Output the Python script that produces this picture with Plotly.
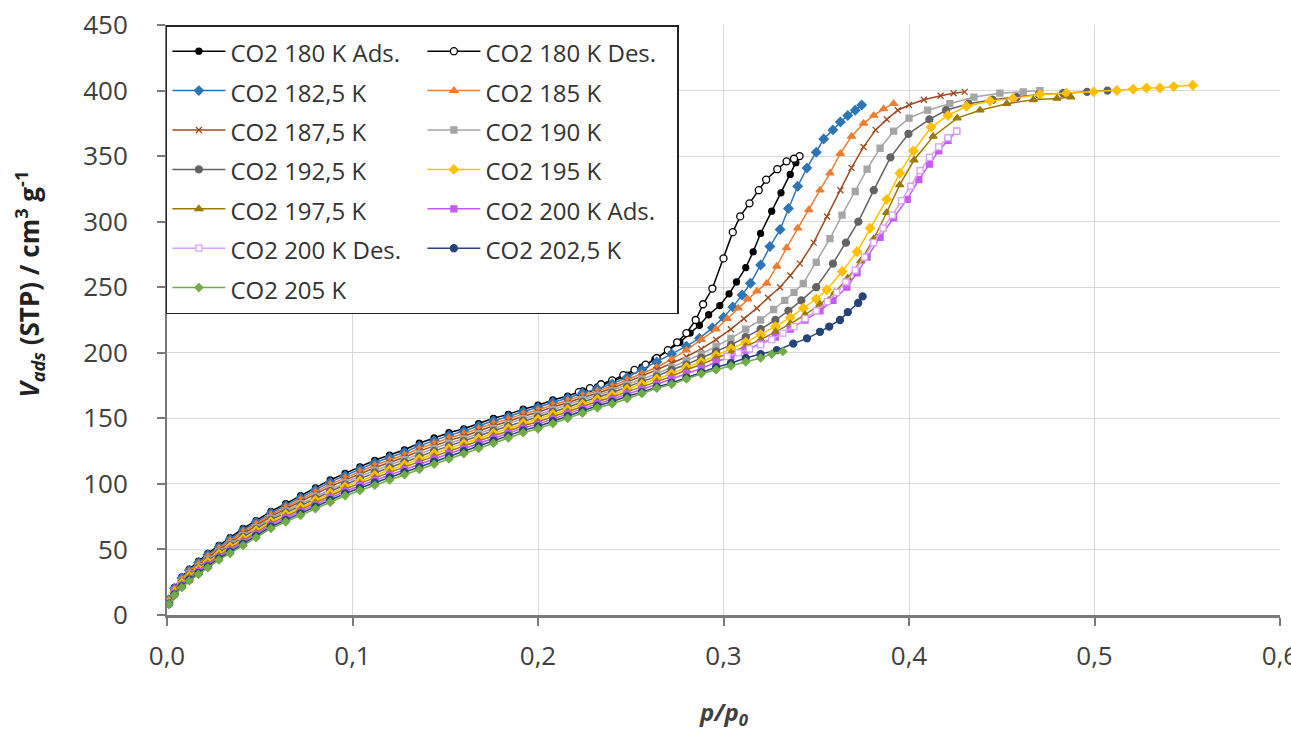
import plotly.graph_objects as go

# ---------------- data ----------------
# shared low-pressure grid (p/p0) used by all adsorption branches
P_LOW = [0.001, 0.004, 0.008, 0.012, 0.017, 0.022, 0.028, 0.034, 0.041, 0.048,
         0.056, 0.064, 0.072, 0.080, 0.088, 0.096, 0.104, 0.112, 0.120, 0.128,
         0.136, 0.144, 0.152, 0.160, 0.168, 0.176, 0.184, 0.192, 0.200, 0.208,
         0.216, 0.224, 0.232, 0.240, 0.248]

V_LOW_180 = [12, 21, 29, 35, 41, 47, 53, 59, 66, 72, 79, 85, 91, 97, 103, 108, 113, 118, 122, 126,
             131, 135, 139, 142, 146, 150, 153, 157, 160, 164, 167, 171, 174, 178, 183]
V_LOW_182 = [11.6, 20.4, 28.2, 34.1, 40, 45.9, 51.9, 57.8, 64.7, 70.7, 77.7, 83.6, 89.5, 95.4, 101.3,
             106.3, 111.2, 116.1, 120.1, 124.1, 129, 133, 137, 140.1, 144.1, 148.1, 151.2, 155.2,
             158.2, 162.2, 165.3, 169.3, 172.4, 176.3, 181.2]
V_LOW_185 = [11.2, 19.8, 27.4, 33.2, 39, 44.8, 50.8, 56.6, 63.4, 69.4, 76.4, 82.2, 88, 93.8, 99.6,
             104.6, 109.4, 114.2, 118.2, 122.2, 127, 131, 135, 138.2, 142.2, 146.2, 149.4, 153.4,
             156.4, 160.4, 163.6, 167.6, 170.8, 174.6, 179.4]
V_LOW_187 = [10.8, 19.2, 26.6, 32.3, 38, 43.7, 49.7, 55.4, 62.1, 68.1, 75.1, 80.8, 86.5, 92.2, 97.9,
             102.9, 107.6, 112.3, 116.3, 120.3, 125, 129, 133, 136.3, 140.3, 144.3, 147.6, 151.6,
             154.6, 158.6, 161.9, 165.9, 169.2, 172.9, 177.6]
V_LOW_190 = [10.4, 18.6, 25.8, 31.4, 37, 42.6, 48.6, 54.2, 60.8, 66.8, 73.8, 79.4, 85, 90.6, 96.2,
             101.2, 105.8, 110.4, 114.4, 118.4, 123, 127, 131, 134.4, 138.4, 142.4, 145.8, 149.8,
             152.8, 156.8, 160.2, 164.2, 167.6, 171.2, 175.8]
V_LOW_192 = [10, 18, 25, 30.5, 36, 41.5, 47.5, 53, 59.5, 65.5, 72.5, 78, 83.5, 89, 94.5, 99.5, 104,
             108.5, 112.5, 116.5, 121, 125, 129, 132.5, 136.5, 140.5, 144, 148, 151, 155, 158.5,
             162.5, 166, 169.5, 174]
V_LOW_195 = [9.6, 17.4, 24.2, 29.6, 35, 40.4, 46.4, 51.8, 58.2, 64.2, 71.2, 76.6, 82, 87.4, 92.8,
             97.8, 102.2, 106.6, 110.6, 114.6, 119, 123, 127, 130.6, 134.6, 138.6, 142.2, 146.2,
             149.2, 153.2, 156.8, 160.8, 164.4, 167.8, 172.2]
V_LOW_197 = [9.2, 16.8, 23.4, 28.7, 34, 39.3, 45.3, 50.6, 56.9, 62.9, 69.9, 75.2, 80.5, 85.8, 91.1,
             96.1, 100.4, 104.7, 108.7, 112.7, 117, 121, 125, 128.7, 132.7, 136.7, 140.4, 144.4,
             147.4, 151.4, 155.1, 159.1, 162.8, 166.1, 170.4]
V_LOW_200 = [8.8, 16.2, 22.6, 27.8, 33, 38.2, 44.2, 49.4, 55.6, 61.6, 68.6, 73.8, 79, 84.2, 89.4,
             94.4, 98.6, 102.8, 106.8, 110.8, 115, 119, 123, 126.8, 130.8, 134.8, 138.6, 142.6,
             145.6, 149.6, 153.4, 157.4, 161.2, 164.4, 168.6]
V_LOW_202 = [8.4, 15.6, 21.8, 26.9, 32, 37.1, 43.1, 48.2, 54.3, 60.3, 67.3, 72.4, 77.5, 82.6, 87.7,
             92.7, 96.8, 100.9, 104.9, 108.9, 113, 117, 121, 124.9, 128.9, 132.9, 136.8, 140.8,
             143.8, 147.8, 151.7, 155.7, 159.6, 162.7, 166.8]
V_LOW_205 = [8, 15, 21, 26, 31, 36, 42, 47, 53, 59, 66, 71, 76, 81, 86, 91, 95, 99, 103, 107,
             111, 115, 119, 123, 127, 131, 135, 139, 142, 146, 150, 154, 158, 161, 165]

# high-pressure parts (p/p0, V)
P_T180A = [0.256, 0.263, 0.270, 0.2765, 0.282, 0.287, 0.292, 0.298, 0.303, 0.307, 0.312, 0.316,
           0.320, 0.326, 0.331, 0.336, 0.339]
V_T180A = [189, 195, 202, 208, 215, 221, 229, 236, 245, 254, 265, 277, 291, 308, 322, 336, 345]

P_180D = [0.341, 0.338, 0.334, 0.329, 0.323, 0.319, 0.314, 0.309, 0.305, 0.300, 0.294, 0.289,
          0.285, 0.280, 0.275, 0.270, 0.264, 0.258, 0.252, 0.246, 0.240, 0.234, 0.228, 0.222]
V_180D = [350, 348, 346, 340, 332, 324, 314, 304, 292, 272, 249, 237, 225, 215, 208, 202, 196,
          191, 187, 183, 179, 176, 173, 170]

P_T182 = [0.256, 0.264, 0.272, 0.280, 0.287, 0.294, 0.300, 0.305, 0.310, 0.3145, 0.320, 0.325,
          0.3305, 0.335, 0.340, 0.345, 0.350, 0.354, 0.359, 0.363, 0.367, 0.371, 0.3745]
V_T182 = [187, 193, 199, 205, 211, 219, 227, 235, 244, 253, 267, 281, 294, 310, 327, 341, 353,
          363, 370, 376, 381, 385, 389]

P_T185 = [0.256, 0.264, 0.272, 0.280, 0.288, 0.296, 0.302, 0.308, 0.313, 0.318, 0.3233, 0.3287,
          0.334, 0.340, 0.346, 0.352, 0.3574, 0.363, 0.369, 0.3755, 0.381, 0.3863, 0.3917]
V_T185 = [184, 189, 195, 202, 210, 218, 226, 234, 241, 247, 253, 266, 280, 295, 309, 324, 337,
          352, 365, 375, 381, 386, 390]

P_T187 = [0.256, 0.264, 0.272, 0.280, 0.288, 0.296, 0.304, 0.311, 0.318, 0.324, 0.3305, 0.336,
          0.3412, 0.3486, 0.3558, 0.363, 0.369, 0.3755, 0.382, 0.388, 0.394, 0.400, 0.408, 0.417,
          0.424, 0.430]
V_T187 = [182, 187, 192, 197, 203, 210, 218, 226, 234, 242, 250, 259, 268, 284, 304, 324, 341,
          357, 370, 378, 385, 389, 393, 396, 398, 399]

P_T190 = [0.256, 0.264, 0.272, 0.280, 0.288, 0.296, 0.304, 0.312, 0.320, 0.327, 0.333, 0.338,
          0.343, 0.350, 0.3574, 0.3639, 0.371, 0.3774, 0.3844, 0.3917, 0.400, 0.410, 0.422, 0.435,
          0.449, 0.4616, 0.4706]
V_T190 = [180, 184, 189, 194, 199, 205, 211, 218, 225, 233, 240, 246, 253, 269, 287, 305, 323,
          340, 356, 369, 379, 385, 390, 395, 398, 399, 400]

P_T192 = [0.256, 0.264, 0.272, 0.280, 0.288, 0.296, 0.304, 0.312, 0.320, 0.328, 0.335, 0.342,
          0.350, 0.359, 0.366, 0.3727, 0.381, 0.390, 0.3997, 0.411, 0.420, 0.432, 0.445, 0.458,
          0.470, 0.483, 0.496, 0.507]
V_T192 = [178, 182, 187, 191, 196, 201, 206, 212, 218, 225, 232, 240, 250, 268, 284, 300, 324,
          349, 367, 378, 385, 390, 393, 395, 397, 398, 399, 400]

P_T195 = [0.256, 0.264, 0.272, 0.280, 0.288, 0.296, 0.304, 0.312, 0.320, 0.328, 0.336, 0.343,
          0.350, 0.3557, 0.364, 0.372, 0.379, 0.388, 0.395, 0.4024, 0.4119, 0.421, 0.431, 0.4437,
          0.456, 0.4706, 0.485, 0.4995, 0.512, 0.5208, 0.528, 0.5353, 0.5427, 0.553]
V_T195 = [176, 180, 184, 189, 193, 198, 203, 208, 214, 220, 227, 234, 241, 248, 262, 277, 295,
          317, 337, 354, 372, 381, 388, 392, 394, 397, 398, 399, 400, 401, 402, 402, 403, 404]

P_T197 = [0.256, 0.264, 0.272, 0.280, 0.288, 0.296, 0.304, 0.312, 0.320, 0.328, 0.336, 0.344,
          0.352, 0.360, 0.367, 0.374, 0.381, 0.388, 0.395, 0.4027, 0.413, 0.426, 0.4383, 0.4527,
          0.467, 0.4798, 0.4873]
V_T197 = [174, 178, 182, 187, 191, 196, 200, 205, 210, 216, 222, 229, 237, 246, 257, 270, 287,
          307, 328, 347, 365, 379, 385, 390, 393, 394, 395]

P_T200A = [0.256, 0.264, 0.272, 0.280, 0.288, 0.296, 0.304, 0.312, 0.320, 0.328, 0.336, 0.344,
           0.352, 0.359, 0.3665, 0.372, 0.3774, 0.3844, 0.3917, 0.399, 0.4053, 0.411, 0.416,
           0.421, 0.4257]
V_T200A = [172, 176, 180, 184, 188, 193, 197, 202, 207, 212, 218, 225, 232, 240, 250, 261, 273,
           288, 303, 317, 332, 344, 354, 362, 369]

P_200D = [0.4257, 0.421, 0.416, 0.411, 0.406, 0.401, 0.396, 0.391, 0.386, 0.381, 0.376, 0.371,
          0.366, 0.361, 0.356, 0.350, 0.344, 0.338, 0.332, 0.326, 0.320, 0.314, 0.308, 0.302]
V_200D = [369, 364, 357, 349, 339, 327, 316, 305, 295, 284, 273, 263, 254, 246, 239, 232, 226,
          220, 215, 210, 206, 203, 200, 197]

P_T202 = [0.256, 0.264, 0.272, 0.280, 0.288, 0.296, 0.304, 0.312, 0.320, 0.3287, 0.3376, 0.345,
          0.352, 0.357, 0.3628, 0.367, 0.3726, 0.375]
V_T202 = [170, 174, 177, 181, 185, 189, 192, 196, 199, 202, 207, 211, 216, 220, 225, 231, 238, 243]

P_T205 = [0.256, 0.264, 0.272, 0.280, 0.288, 0.296, 0.304, 0.312, 0.320, 0.326, 0.332]
V_T205 = [169, 173, 176, 180, 184, 187, 190, 193, 196, 199, 201]

NAMES = ["CO2 180 K Ads.", "CO2 180 K Des.", "CO2 182,5 K", "CO2 185 K", "CO2 187,5 K",
         "CO2 190 K", "CO2 192,5 K", "CO2 195 K", "CO2 197,5 K", "CO2 200 K Ads.",
         "CO2 200 K Des.", "CO2 202,5 K", "CO2 205 K"]

X_TICKS = [0, 0.1, 0.2, 0.3, 0.4, 0.5, 0.6]
X_TICK_TEXT = ["0,0", "0,1", "0,2", "0,3", "0,4", "0,5", "0,6"]
Y_TICKS = [0, 50, 100, 150, 200, 250, 300, 350, 400, 450]

# ---------------- series assembly ----------------
series = [
    (P_LOW + P_T180A, V_LOW_180 + V_T180A),
    (P_180D, V_180D),
    (P_LOW + P_T182, V_LOW_182 + V_T182),
    (P_LOW + P_T185, V_LOW_185 + V_T185),
    (P_LOW + P_T187, V_LOW_187 + V_T187),
    (P_LOW + P_T190, V_LOW_190 + V_T190),
    (P_LOW + P_T192, V_LOW_192 + V_T192),
    (P_LOW + P_T195, V_LOW_195 + V_T195),
    (P_LOW + P_T197, V_LOW_197 + V_T197),
    (P_LOW + P_T200A, V_LOW_200 + V_T200A),
    (P_200D, V_200D),
    (P_LOW + P_T202, V_LOW_202 + V_T202),
    (P_LOW + P_T205, V_LOW_205 + V_T205),
]

styles = [
    dict(color="#000000", symbol="circle", fill="#000000", size=6),
    dict(color="#000000", symbol="circle", fill="#ffffff", size=7),
    dict(color="#2e75b6", symbol="diamond", fill="#2e75b6", size=7),
    dict(color="#ed7d31", symbol="triangle-up", fill="#ed7d31", size=7),
    dict(color="#9e4a1f", symbol="x-thin", fill="#9e4a1f", size=6),
    dict(color="#a5a5a5", symbol="square", fill="#a5a5a5", size=6),
    dict(color="#636363", symbol="circle", fill="#636363", size=7),
    dict(color="#ffc000", symbol="diamond", fill="#ffc000", size=7),
    dict(color="#9c7a00", symbol="triangle-up", fill="#9c7a00", size=7),
    dict(color="#c65bf2", symbol="square", fill="#c65bf2", size=6),
    dict(color="#d9a0ff", symbol="square", fill="#ffffff", size=6),
    dict(color="#264478", symbol="circle", fill="#264478", size=7),
    dict(color="#70ad47", symbol="diamond", fill="#70ad47", size=6),
]

fig = go.Figure()
for (px, vy), name, st in zip(series, NAMES, styles):
    fig.add_trace(go.Scatter(
        x=px, y=vy, mode="lines+markers",
        name='<span style="font-size:24px">' + name + '</span>',
        line=dict(color=st["color"], width=1.5),
        marker=dict(symbol=st["symbol"], size=st["size"], color=st["fill"],
                    line=dict(color=st["color"], width=1.3)),
    ))

fig.update_layout(
    width=1291, height=731,
    margin=dict(l=167, r=11, t=25, b=116, autoexpand=False),
    paper_bgcolor="white", plot_bgcolor="white",
    font=dict(family="Open Sans", size=26, color="#404040"),
    showlegend=True,
    legend=dict(
        orientation="h", x=-0.001, xanchor="left", y=1, yanchor="top",
        bgcolor="white", bordercolor="#222222", borderwidth=1.5,
        font=dict(family="Open Sans", size=28, color="#333333"),
        entrywidth=187, entrywidthmode="pixels", itemwidth=53,
    ),
    xaxis=dict(
        range=[0, 0.6], tickvals=X_TICKS, ticktext=X_TICK_TEXT,
        showgrid=True, gridcolor="#d9d9d9", gridwidth=1,
        showline=True, linecolor="#7a7a7a", linewidth=3,
        ticks="outside", ticklen=8, tickcolor="#7a7a7a", tickwidth=1.5,
        ticklabelstandoff=8, ticklabeloverflow="allow", zeroline=False,
        tickfont=dict(size=26, color="#404040"),
    ),
    yaxis=dict(
        range=[0, 450], tickvals=Y_TICKS,
        showgrid=True, gridcolor="#d9d9d9", gridwidth=1,
        showline=True, linecolor="#7a7a7a", linewidth=2,
        ticks="outside", ticklen=8, tickcolor="#7a7a7a", tickwidth=1.5,
        ticklabelstandoff=24, zeroline=False,
        tickfont=dict(size=26, color="#404040"),
    ),
    annotations=[
        dict(text="<b><i>p/p<sub>0</sub></i></b>", xref="paper", yref="paper",
             x=0.5, y=-0.166, xanchor="center", yanchor="middle", showarrow=False,
             font=dict(family="Open Sans", size=24, color="#404040")),
        dict(text="<b><i>V<sub>ads</sub></i> (STP) / cm<sup>3</sup> g<sup>-1</sup></b>",
             xref="paper", yref="paper", x=(29 - 167) / 1113, y=0.56, textangle=-90,
             xanchor="center", yanchor="middle", showarrow=False,
             font=dict(family="Open Sans", size=26, color="#222222")),
    ],
)

fig.write_html("out.html")
